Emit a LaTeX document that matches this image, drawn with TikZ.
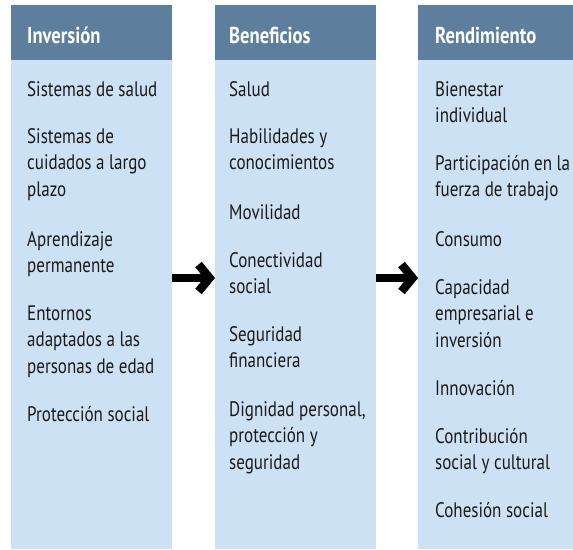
\documentclass[tikz,border=0pt]{standalone}
\usepackage{fontspec}
\setmainfont{PT Sans}[FakeStretch=0.81]
\usetikzlibrary{arrows.meta}
\definecolor{headblue}{HTML}{5D7F9D}
\definecolor{lightblue}{HTML}{CDE1F4}
\definecolor{ink}{HTML}{1A1A1A}
\newcommand{\itm}[1]{\begin{tabular}[t]{@{}l@{}}#1\end{tabular}}
\tikzset{
  colbox/.style={fill=lightblue, draw=none, inner sep=0pt, anchor=north west, minimum height=544pt},
  headbox/.style={fill=headblue, draw=none, inner sep=0pt, anchor=north west, minimum height=55pt},
  headtxt/.style={anchor=base west, inner sep=0pt, text=white, font={\fontsize{23}{26}\selectfont\bfseries}},
  item/.style={anchor=base west, inner sep=0pt, text=ink, font={\fontsize{21}{26.7}\selectfont}},
  arr/.style={line width=8.5pt, draw=black, -{Straight Barb[length=11pt,width=27pt]}}
}
\begin{document}
\begin{tikzpicture}[x=1pt,y=-1pt]
\useasboundingbox (0,0) rectangle (573,549);
% columns
\node[colbox, minimum width=161pt] (c1) at (11,5) {};
\node[colbox, minimum width=161pt] (c2) at (215,5) {};
\node[colbox, minimum width=155pt] (c3) at (418,5) {};
\node[headbox, minimum width=161pt] (h1) at (11,5) {};
\node[headbox, minimum width=161pt] (h2) at (215,5) {};
\node[headbox, minimum width=155pt] (h3) at (418,5) {};
\node[headtxt] (t1) at (27,43) {Inversión};
\node[headtxt] (t2) at (229,43) {Beneficios};
\node[headtxt] (t3) at (435,43) {Rendimiento};
% column 1
\node[item] (a1) at (27,96) {\itm{Sistemas de salud}};
\node[item] (a2) at (27,143) {\itm{Sistemas de\\cuidados a largo\\plazo}};
\node[item] (a3) at (27,246) {\itm{Aprendizaje\\permanente}};
\node[item] (a4) at (27,320) {\itm{Entornos\\adaptados a las\\personas de edad}};
\node[item] (a5) at (27,421) {\itm{Protección social}};
% column 2
\node[item] (b1) at (229,96) {\itm{Salud}};
\node[item] (b2) at (229,143) {\itm{Habilidades y\\conocimientos}};
\node[item] (b3) at (229,219) {\itm{Movilidad}};
\node[item] (b4) at (229,267) {\itm{Conectividad\\social}};
\node[item] (b5) at (229,341) {\itm{Seguridad\\financiera}};
\node[item] (b6) at (229,416) {\itm{Dignidad personal,\\protección y\\seguridad}};
% column 3
\node[item] (r1) at (435,96) {\itm{Bienestar\\individual}};
\node[item] (r2) at (435,170) {\itm{Participación en la\\fuerza de trabajo}};
\node[item] (r3) at (435,246) {\itm{Consumo}};
\node[item] (r4) at (435,294) {\itm{Capacidad\\empresarial e\\inversión}};
\node[item] (r5) at (435,395) {\itm{Innovación}};
\node[item] (r6) at (435,443) {\itm{Contribución\\social y cultural}};
\node[item] (r7) at (435,517) {\itm{Cohesión social}};
% arrows
\coordinate (m) at (0,278);
\draw[arr] (c1.east |- m) -- (c2.west |- m);
\draw[arr] (c2.east |- m) -- (c3.west |- m);
\end{tikzpicture}
\end{document}
